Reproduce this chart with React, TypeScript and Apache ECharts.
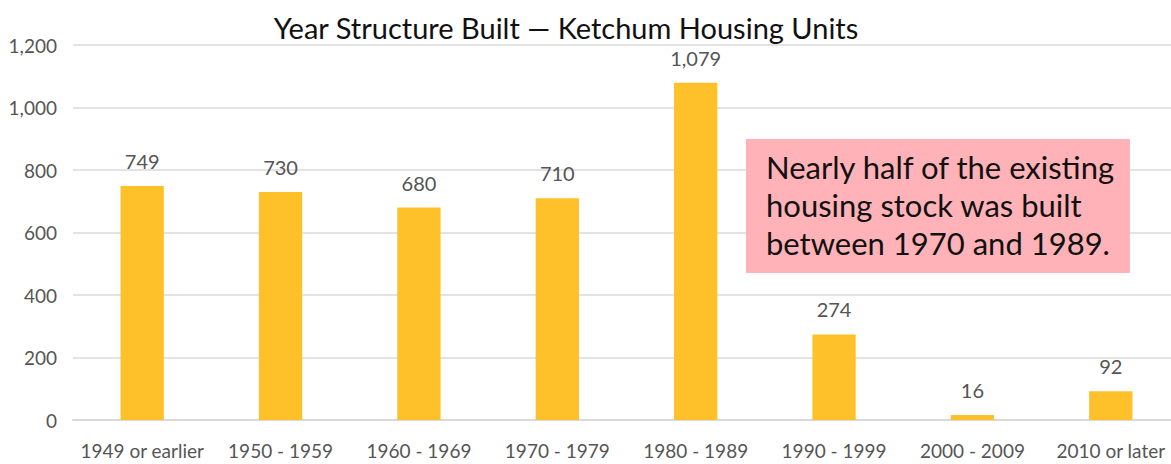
import React, { useEffect, useRef } from "react";
import * as echarts from "echarts";

const categories = [
  "1949 or earlier",
  "1950 - 1959",
  "1960 - 1969",
  "1970 - 1979",
  "1980 - 1989",
  "1990 - 1999",
  "2000 - 2009",
  "2010 or later",
];
const units = [749, 730, 680, 710, 1079, 274, 16, 92];
const titleText = "Year Structure Built \u2014 Ketchum Housing Units";
const noteLines = [
  "Nearly half of the existing",
  "housing stock was built",
  "between 1970 and 1989.",
];

const FONT = "Lato, 'Noto Sans', sans-serif";

export default function App() {
  const ref = useRef<HTMLDivElement>(null);
  useEffect(() => {
    if (!ref.current) return;
    const chart = echarts.init(ref.current, null, { renderer: "svg" });
    chart.setOption({
      animation: false,
      backgroundColor: "#ffffff",
      title: {
        text: titleText,
        left: 561,
        textAlign: "center",
        top: 8,
        textStyle: { fontFamily: FONT, fontSize: 29, fontWeight: "normal", color: "#111111" },
      },
      grid: { left: 73, top: 45, width: 1107, height: 375, containLabel: false },
      xAxis: {
        type: "category",
        data: categories,
        axisLine: { show: true, lineStyle: { color: "#d9d9d9", width: 2 } },
        axisTick: { show: false },
        axisLabel: { fontFamily: FONT, fontSize: 19, color: "#555555", margin: 21, interval: 0 },
      },
      yAxis: {
        type: "value",
        min: 0,
        max: 1200,
        interval: 200,
        axisLine: { show: false },
        axisTick: { show: false },
        splitLine: { lineStyle: { color: "#e3e3e3", width: 2 } },
        axisLabel: {
          fontFamily: FONT,
          fontSize: 19,
          color: "#555555",
          margin: 16,
          formatter: (v: number) => v.toLocaleString("en-US"),
        },
      },
      series: [
        {
          type: "bar",
          data: units,
          barWidth: "31.3%",
          itemStyle: { color: "#FFC12A" },
          label: {
            show: true,
            position: "top",
            distance: 15,
            fontFamily: FONT,
            fontSize: 20,
            color: "#555555",
            formatter: (p: any) => Number(p.value).toLocaleString("en-US"),
          },
        },
      ],
      graphic: [
        {
          type: "rect",
          z: 100,
          shape: { x: 746, y: 139, width: 384, height: 134 },
          style: { fill: "#FFB3B8" },
        },
        {
          type: "text",
          z: 101,
          x: 766,
          y: 148,
          style: {
            text: noteLines.join("\n"),
            fontFamily: FONT,
            fontSize: 31,
            lineHeight: 38,
            fill: "#111111",
          },
        },
      ],
    });
    return () => chart.dispose();
  }, []);
  return (
    <div
      style={{
        position: "absolute",
        left: 0,
        top: 0,
        width: 1171,
        height: 464,
        overflow: "hidden",
        background: "#ffffff",
      }}
    >
      <div ref={ref} style={{ width: 1190, height: 464 }} />
    </div>
  );
}
